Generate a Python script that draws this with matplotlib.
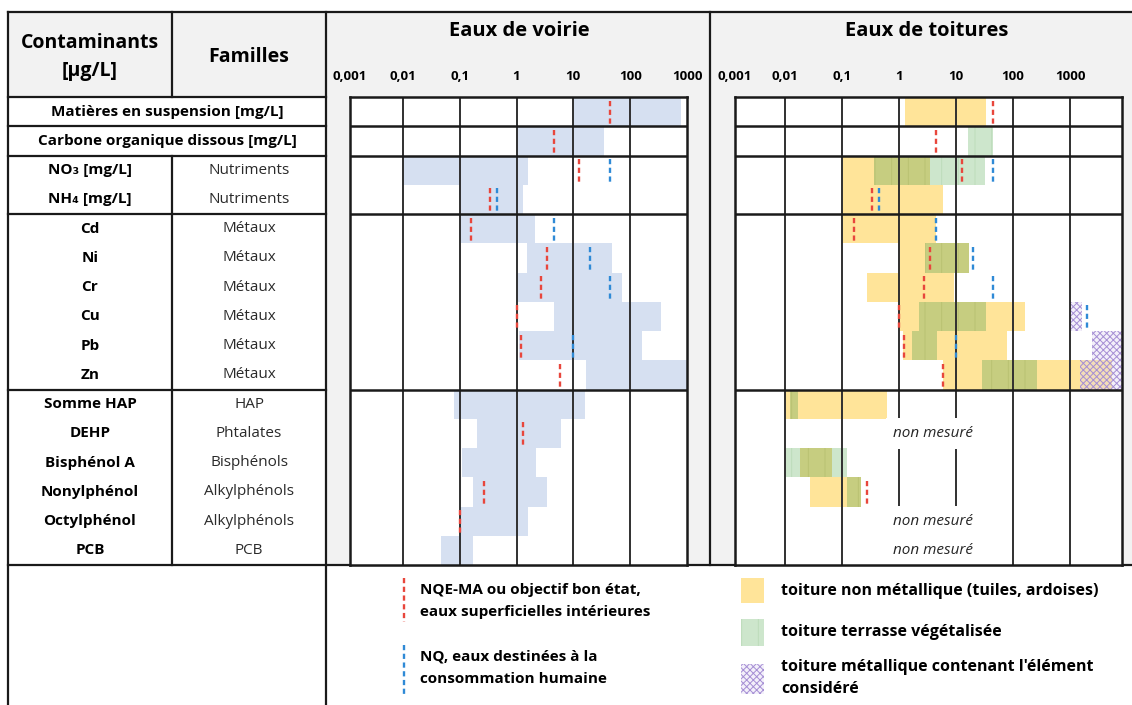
import numpy as np
import matplotlib
matplotlib.use('Agg')
import matplotlib.pyplot as plt
from matplotlib.patches import Rectangle

plt.rcParams['font.family'] = ['Open Sans', 'DejaVu Sans']
plt.rcParams['hatch.linewidth'] = 0.7

nan = np.nan

# --- data (concentrations, log scale) ---
contaminants = ['Matières en suspension [mg/L]', 'Carbone organique dissous [mg/L]',
                'NO₃ [mg/L]', 'NH₄ [mg/L]',
                'Cd', 'Ni', 'Cr', 'Cu', 'Pb', 'Zn',
                'Somme HAP', 'DEHP', 'Bisphénol A', 'Nonylphénol', 'Octylphénol', 'PCB']
familles = ['', '', 'Nutriments', 'Nutriments',
            'Métaux', 'Métaux', 'Métaux', 'Métaux', 'Métaux', 'Métaux',
            'HAP', 'Phtalates', 'Bisphénols', 'Alkylphénols', 'Alkylphénols', 'PCB']
merged_rows = [0, 1]          # rows spanning both left columns
group_edges = [0, 1, 2, 4, 10, 16]

voirie_min = [10, 1, 0.01, 0.1, 0.1, 1.55, 1, 4.5, 1.1, 17, 0.08, 0.2, 0.11, 0.17, 0.1, 0.046]
voirie_max = [800, 35, 1.6, 1.3, 2.1, 47, 72, 350, 160, 1000, 16, 6, 2.2, 3.5, 1.6, 0.17]

# NQE-MA (red) and NQ eau potable (blue)
nqe_ma = [45, 4.5, 12.5, 0.34, 0.16, 3.5, 2.7, 1, 1.2, 5.9, nan, 1.3, nan, 0.27, 0.1, nan]
nq_conso = [nan, nan, 45, 0.45, 4.5, 20, 45, 2000, 10, nan, nan, nan, nan, nan, nan, nan]

# toitures
non_metal_min = [1.27, nan, 0.1, 0.1, 0.1, 1, 0.27, 1, 1.15, 5.8, 0.01, nan, 0.018, 0.027, nan, nan]
non_metal_max = [34, nan, 3.5, 5.8, 4.4, 17, 9.3, 162, 78, 5500, 0.6, nan, 0.067, 0.21, nan, nan]
vegetal_min = [nan, 16, 0.36, nan, nan, 2.8, nan, 2.2, 1.7, 28, 0.012, nan, 0.01, 0.12, nan, nan]
vegetal_max = [nan, 45, 32, nan, nan, 17, nan, 34, 4.6, 260, 0.017, nan, 0.12, 0.21, nan, nan]
metal_min = [nan, nan, nan, nan, nan, nan, nan, 1000, 2400, 1500, nan, nan, nan, nan, nan, nan]
metal_max = [nan, nan, nan, nan, nan, nan, nan, 1600, 9000, 9000, nan, nan, nan, nan, nan, nan]
non_mesure = [False] * 11 + [True, False, False, True, True]

ticks = [0.001, 0.01, 0.1, 1, 10, 100, 1000]
tick_labels = ['0,001', '0,01', '0,1', '1', '10', '100', '1000']

# --- colours ---
GRAY = '#f2f2f2'
BLUE_FILL = '#d6e0f1'
YELLOW = '#ffe499'
GREEN = '#cde6cc'
OLIVE = '#c6cd80'
PURPLE = '#a58ed4'
RED = '#e8463c'
BLUE = '#2f8ad6'
LINE = '#1a1a1a'

# --- layout (pixels) ---
W, H = 1132, 705
X_L, X_FAM, X_V, X_T, X_R = 8, 172, 326, 710, 1132
Y_TOP, Y_HEAD, Y_BOT, Y_END = 12, 97, 565, 705
n_rows = len(contaminants)
RH = (Y_BOT - Y_HEAD) / n_rows

fig = plt.figure(figsize=(W / 100, H / 100), dpi=100)
bg = fig.add_axes([0, 0, 1, 1])
bg.set_xlim(0, W)
bg.set_ylim(H, 0)
bg.axis('off')

bg.add_patch(Rectangle((X_L, Y_TOP), X_V - X_L, Y_HEAD - Y_TOP, fc=GRAY, ec='none'))
bg.add_patch(Rectangle((X_V, Y_TOP), X_R - X_V, Y_BOT - Y_TOP, fc=GRAY, ec='none'))


def row_y(i):
    return Y_HEAD + i * RH


# table lines
tl = dict(color=LINE, lw=1.6, solid_capstyle='projecting')
bg.plot([X_L, X_R], [Y_TOP, Y_TOP], **tl)
bg.plot([X_L, X_R], [Y_BOT, Y_BOT], **tl)
for g in group_edges[:-1]:
    bg.plot([X_L, X_V], [row_y(g), row_y(g)], **tl)
bg.plot([X_L, X_L], [Y_TOP, Y_END], **tl)
bg.plot([X_V, X_V], [Y_TOP, Y_END], **tl)
bg.plot([X_T, X_T], [Y_TOP, Y_BOT], **tl)
bg.plot([X_FAM, X_FAM], [Y_TOP, Y_HEAD], **tl)
bg.plot([X_FAM, X_FAM], [row_y(max(merged_rows) + 1), Y_BOT], **tl)

# header texts
bg.text((X_L + X_FAM) / 2, 57, 'Contaminants\n[µg/L]', ha='center', va='center',
        fontsize=14, fontweight='bold', linespacing=1.5)
bg.text((X_FAM + X_V) / 2, 57, 'Familles', ha='center', va='center',
        fontsize=14, fontweight='bold')
bg.text((X_V + X_T) / 2 + 1, 31, 'Eaux de voirie', ha='center', va='center',
        fontsize=14.5, fontweight='bold')
bg.text((X_T + X_R) / 2 + 6, 31, 'Eaux de toitures', ha='center', va='center',
        fontsize=14.5, fontweight='bold')

# left table rows
for i, (c, f) in enumerate(zip(contaminants, familles)):
    y = row_y(i) + RH / 2
    if i in merged_rows:
        bg.text((X_L + X_V) / 2, y, c, ha='center', va='center', fontsize=11, fontweight='bold')
    else:
        bg.text((X_L + X_FAM) / 2, y, c, ha='center', va='center', fontsize=11, fontweight='bold')
        bg.text((X_FAM + X_V) / 2, y, f, ha='center', va='center', fontsize=11, color='#2a2a2a')


def add_panel(x0, x1, lo, hi):
    ax = fig.add_axes([x0 / W, 1 - Y_BOT / H, (x1 - x0) / W, (Y_BOT - Y_HEAD) / H])
    ax.set_xscale('log')
    ax.set_facecolor('white')
    ax.tick_params(which='both', bottom=False, left=False, labelbottom=False, labelleft=False)
    for s in ax.spines.values():
        s.set_linewidth(1.8)
        s.set_color(LINE)
        s.set_zorder(6)
    for t in ticks:
        if lo < t < hi:
            ax.axvline(t, color='#303030', lw=1.4, zorder=2)
    for g in group_edges[1:-1]:
        ax.axhline(g, color=LINE, lw=1.8, zorder=6)
    for t, lab in zip(ticks, tick_labels):
        ax.text(max(t, lo), 1.043, lab, transform=ax.get_xaxis_transform(),
                ha='center', va='center', fontsize=9.5, fontweight='bold', clip_on=False)
    ax.set_xlim(lo, hi)
    ax.set_ylim(n_rows, 0)
    return ax


def thresholds(ax, rows):
    for i in rows:
        if not np.isnan(nqe_ma[i]):
            ax.vlines(nqe_ma[i], i + 0.12, i + 0.97, colors=RED, lw=1.7,
                      linestyles=(0, (2.2, 1.5)), zorder=7)
        if not np.isnan(nq_conso[i]):
            ax.vlines(nq_conso[i], i + 0.12, i + 0.97, colors=BLUE, lw=1.7,
                      linestyles=(0, (2.2, 1.5)), zorder=7)


ypos = np.arange(n_rows) + 0.5

# Eaux de voirie
axv = add_panel(350, 687, 10 ** -2.93, 10 ** 3)
axv.barh(ypos, np.array(voirie_max) - np.array(voirie_min), left=voirie_min,
         height=1.0, color=BLUE_FILL, zorder=1)
thresholds(axv, range(n_rows))
axv.set_xlim(10 ** -2.93, 10 ** 3)

# Eaux de toitures
axt = add_panel(735, 1122, 10 ** -2.88, 10 ** 3.91)
nm_lo, nm_hi = np.array(non_metal_min), np.array(non_metal_max)
vg_lo, vg_hi = np.array(vegetal_min), np.array(vegetal_max)
mt_lo, mt_hi = np.array(metal_min), np.array(metal_max)
ok = ~np.isnan(nm_lo)
axt.barh(ypos[ok], (nm_hi - nm_lo)[ok], left=nm_lo[ok], height=1.0, color=YELLOW, zorder=1)
ok = ~np.isnan(vg_lo)
axt.barh(ypos[ok], (vg_hi - vg_lo)[ok], left=vg_lo[ok], height=1.0, color=GREEN,
         edgecolor='#bddcba', hatch='|', linewidth=0, zorder=1.1)
# overlap végétalisée / non métallique (colours mix)
ov_lo, ov_hi = np.maximum(nm_lo, vg_lo), np.minimum(nm_hi, vg_hi)
ok = ~np.isnan(ov_lo) & ~np.isnan(ov_hi)
ok[ok] = ov_hi[ok] > ov_lo[ok]
axt.barh(ypos[ok], (ov_hi - ov_lo)[ok], left=ov_lo[ok], height=1.0, color=OLIVE,
         edgecolor='#b9c272', hatch='|', linewidth=0, zorder=1.2)
ok = ~np.isnan(mt_lo)
axt.barh(ypos[ok], (mt_hi - mt_lo)[ok], left=mt_lo[ok], height=1.0,
         color=(0.87, 0.83, 0.95, 0.35), edgecolor=PURPLE, hatch='xxxxx', linewidth=0, zorder=1.3)
thresholds(axt, [i for i in range(n_rows) if not non_mesure[i]])
for i in range(n_rows):
    if non_mesure[i]:
        axt.text(4, i + 0.5, 'non mesuré', ha='center', va='center', fontsize=11,
                 style='italic', color='#262626', zorder=3,
                 bbox=dict(boxstyle='square,pad=0.5', fc='white', ec='none'))
axt.set_xlim(10 ** -2.88, 10 ** 3.91)

# legend
lw_leg = dict(lw=1.7, linestyles=(0, (2.2, 1.5)))
bg.vlines(404, 578, 622, colors=RED, **lw_leg)
bg.vlines(404, 645, 694, colors=BLUE, **lw_leg)
bg.text(420, 601, 'NQE-MA ou objectif bon état,\neaux superficielles intérieures',
        ha='left', va='center', fontsize=11, fontweight='bold', linespacing=1.75)
bg.text(420, 668, 'NQ, eaux destinées à la\nconsommation humaine',
        ha='left', va='center', fontsize=11, fontweight='bold', linespacing=1.75)

bg.add_patch(Rectangle((741, 578), 23, 25, fc=YELLOW, ec='none'))
bg.add_patch(Rectangle((741, 619), 23, 27, fc=GREEN, ec='#bddcba', hatch='|', lw=0))
bg.add_patch(Rectangle((741, 664), 23, 30, fc=(0.87, 0.83, 0.95, 0.35), ec=PURPLE,
                       hatch='xxxxx', lw=0))
bg.text(781, 591, 'toiture non métallique (tuiles, ardoises)', ha='left', va='center',
        fontsize=11.5, fontweight='bold')
bg.text(781, 632, 'toiture terrasse végétalisée', ha='left', va='center',
        fontsize=11.5, fontweight='bold')
bg.text(781, 678, "toiture métallique contenant l'élément\nconsidéré", ha='left', va='center',
        fontsize=11.5, fontweight='bold', linespacing=1.55)

fig.savefig('out.png', dpi=100)
